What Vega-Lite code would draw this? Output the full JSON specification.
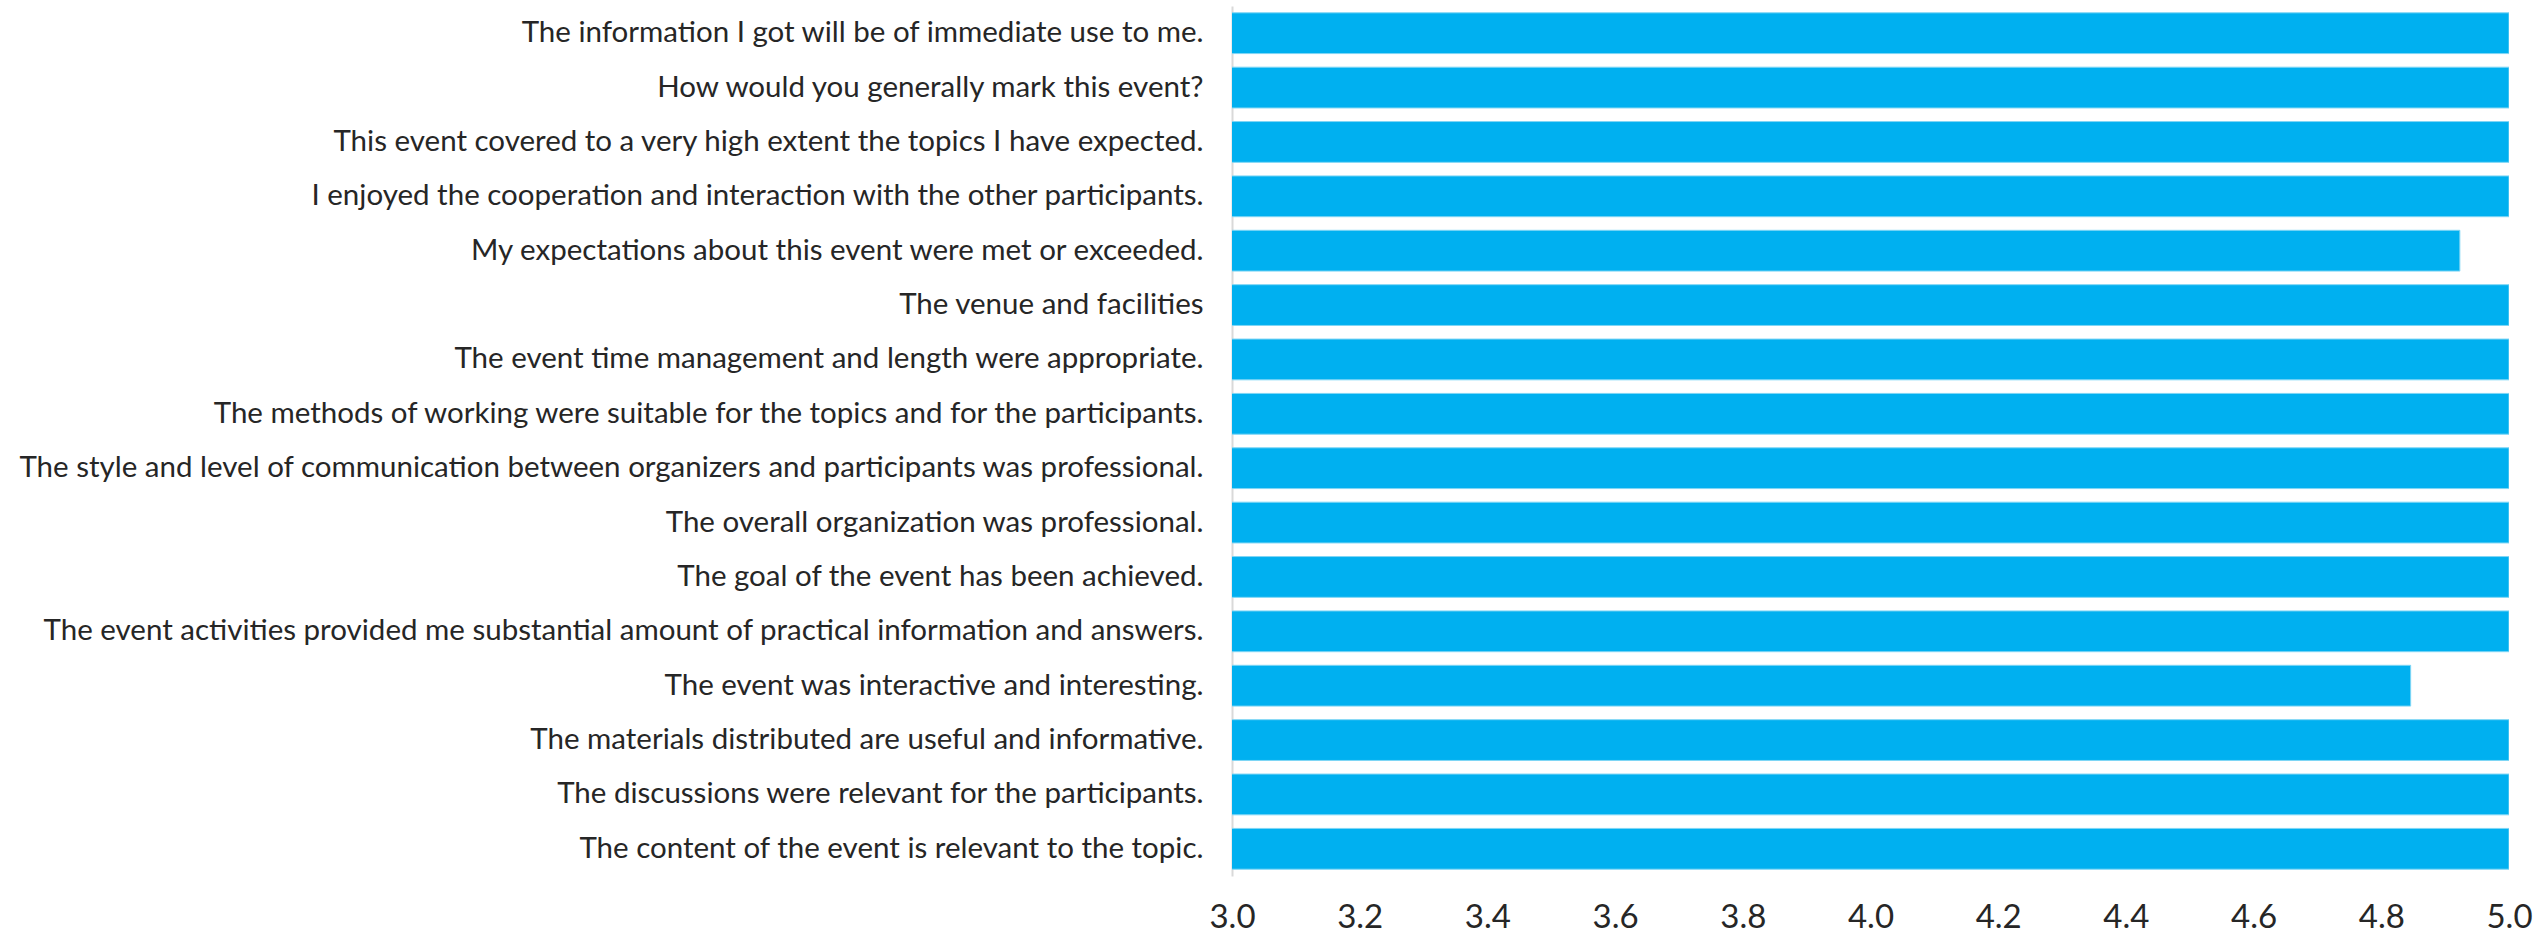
{
  "$schema": "https://vega.github.io/schema/vega-lite/v6.json",
  "autosize": {"type": "none"},
  "padding": {"left": 1232, "top": 6, "right": 30, "bottom": 61},
  "width": 1277,
  "height": 870,
  "background": "white",
  "config": {"view": {"stroke": null}, "font": "Lato"},
  "data": {"values": [
    {"q": "The information I got will be of immediate use to me.", "score": 5, "order": 1},
    {"q": "How would you generally mark this event?", "score": 5, "order": 2},
    {"q": "This event covered to a very high extent the topics I have expected.", "score": 5, "order": 3},
    {"q": "I enjoyed the cooperation and interaction with the other participants.", "score": 5, "order": 4},
    {"q": "My expectations about this event were met or exceeded.", "score": 4.923, "order": 5},
    {"q": "The venue and facilities", "score": 5, "order": 6},
    {"q": "The event time management and length were appropriate.", "score": 5, "order": 7},
    {"q": "The methods of working were suitable for the topics and for the participants.", "score": 5, "order": 8},
    {"q": "The style and level of communication between organizers and participants was professional.", "score": 5, "order": 9},
    {"q": "The overall organization was professional.", "score": 5, "order": 10},
    {"q": "The goal of the event has been achieved.", "score": 5, "order": 11},
    {"q": "The event activities provided me substantial amount of practical information and answers.", "score": 5, "order": 12},
    {"q": "The event was interactive and interesting.", "score": 4.846, "order": 13},
    {"q": "The materials distributed are useful and informative.", "score": 5, "order": 14},
    {"q": "The discussions were relevant for the participants.", "score": 5, "order": 15},
    {"q": "The content of the event is relevant to the topic.", "score": 5, "order": 16}
  ]},
  "mark": {"type": "bar", "color": "#00B0F0", "stroke": "#7fd6f5", "strokeWidth": 1, "clip": true},
  "encoding": {
    "y": {
      "field": "q", "type": "nominal",
      "sort": {"field": "order", "order": "ascending"},
      "scale": {"paddingInner": 0.25, "paddingOuter": 0.125},
      "axis": {
        "title": null, "ticks": false, "domain": true, "domainColor": "#d9d9d9", "domainWidth": 2,
        "labelFontSize": 29.5, "labelColor": "#262626", "labelPadding": 29, "labelLimit": 1300
      }
    },
    "x": {
      "field": "score", "type": "quantitative",
      "scale": {"domain": [3, 5], "zero": false},
      "axis": {
        "title": null, "values": [3, 3.2, 3.4, 3.6, 3.8, 4, 4.2, 4.4, 4.6, 4.8, 5], "format": ".1f",
        "domain": false, "ticks": false, "grid": false,
        "labelFontSize": 33, "labelColor": "#262626", "labelPadding": 25, "labelFlush": false, "labelOverlap": false
      }
    }
  }
}
